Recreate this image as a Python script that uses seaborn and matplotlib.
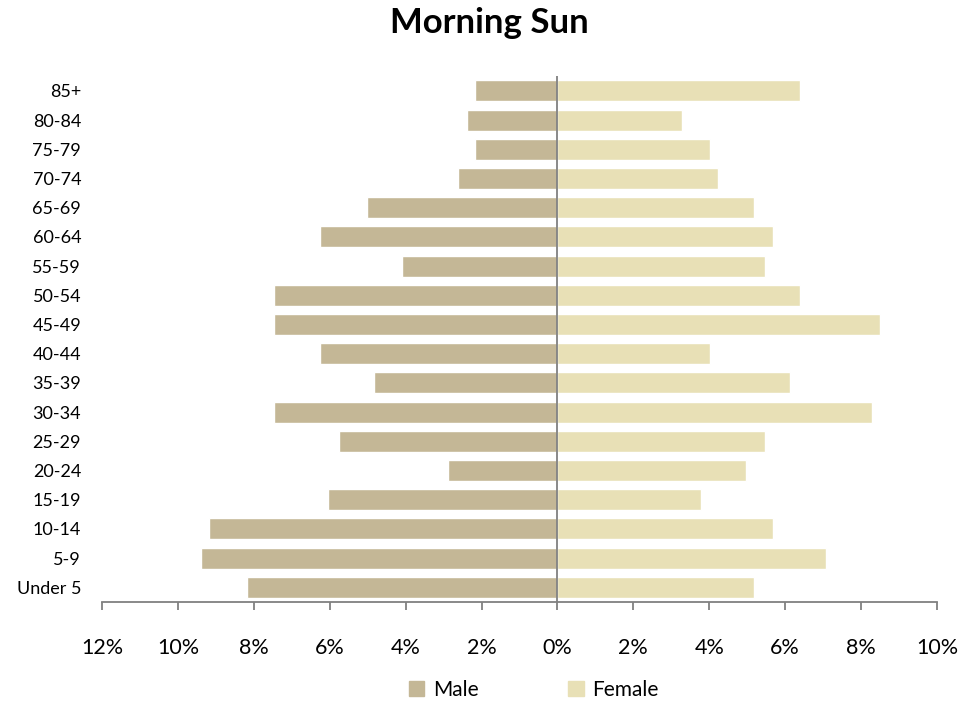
import pandas as pd
import seaborn as sns
import matplotlib.pyplot as plt
from matplotlib.ticker import FuncFormatter, MultipleLocator

ages = ["85+", "80-84", "75-79", "70-74", "65-69", "60-64", "55-59", "50-54", "45-49",
        "40-44", "35-39", "30-34", "25-29", "20-24", "15-19", "10-14", "5-9", "Under 5"]
male = [2.18, 2.39, 2.18, 2.63, 5.03, 6.26, 4.10, 7.47, 7.47,
        6.26, 4.82, 7.47, 5.76, 2.89, 6.05, 9.18, 9.39, 8.18]
female = [6.39, 3.29, 4.03, 4.24, 5.18, 5.68, 5.47, 6.39, 8.50,
          4.03, 6.13, 8.29, 5.47, 4.97, 3.79, 5.68, 7.08, 5.18]

df = pd.concat([
    pd.DataFrame({"Age": ages, "Sex": "Male", "Pct": [-v for v in male]}),
    pd.DataFrame({"Age": ages, "Sex": "Female", "Pct": female}),
])

sns.set_style("white")
plt.rcParams["font.family"] = ["Lato", "DejaVu Sans"]
plt.rcParams["text.color"] = "black"
plt.rcParams["xtick.labelcolor"] = "black"
plt.rcParams["ytick.labelcolor"] = "black"

fig = plt.figure(figsize=(9.79, 7.13), dpi=100)
ax = fig.add_axes([0.1042, 0.1557, 0.8528, 0.7373])

sns.barplot(data=df, y="Age", x="Pct", hue="Sex", order=ages, dodge=False,
            palette={"Male": "#C4B796", "Female": "#E8E0B6"}, width=0.72,
            saturation=1, orient="h", ax=ax, legend=False)

ax.set_xlim(-12, 10)
ax.set_ylim(17.5, -0.5)
ax.xaxis.set_major_locator(MultipleLocator(2))
ax.xaxis.set_major_formatter(FuncFormatter(lambda v, p: f"{abs(v):.0f}%"))
ax.axvline(0, color="#808080", lw=1.3)

for s in ["top", "right", "left"]:
    ax.spines[s].set_visible(False)
ax.spines["bottom"].set_color("#808080")
ax.spines["bottom"].set_linewidth(1.3)
ax.tick_params(axis="x", direction="out", length=6, width=1.3, color="#808080",
               labelsize=15.5, pad=20, bottom=True)
ax.tick_params(axis="y", length=0, labelsize=13, pad=15)
ax.set_xlabel("")
ax.set_ylabel("")

fig.suptitle("Morning Sun", fontsize=25, fontweight="bold", y=0.99)

handles = [plt.Rectangle((0, 0), 1, 1, color="#C4B796"),
           plt.Rectangle((0, 0), 1, 1, color="#E8E0B6")]
fig.legend(handles, ["Male", "Female"], loc="lower center", ncol=2, frameon=False,
           fontsize=15, handlelength=0.75, handleheight=0.75, columnspacing=4.3,
           handletextpad=0.4, bbox_to_anchor=(0.545, -0.008))

fig.savefig("out.png", dpi=100)
